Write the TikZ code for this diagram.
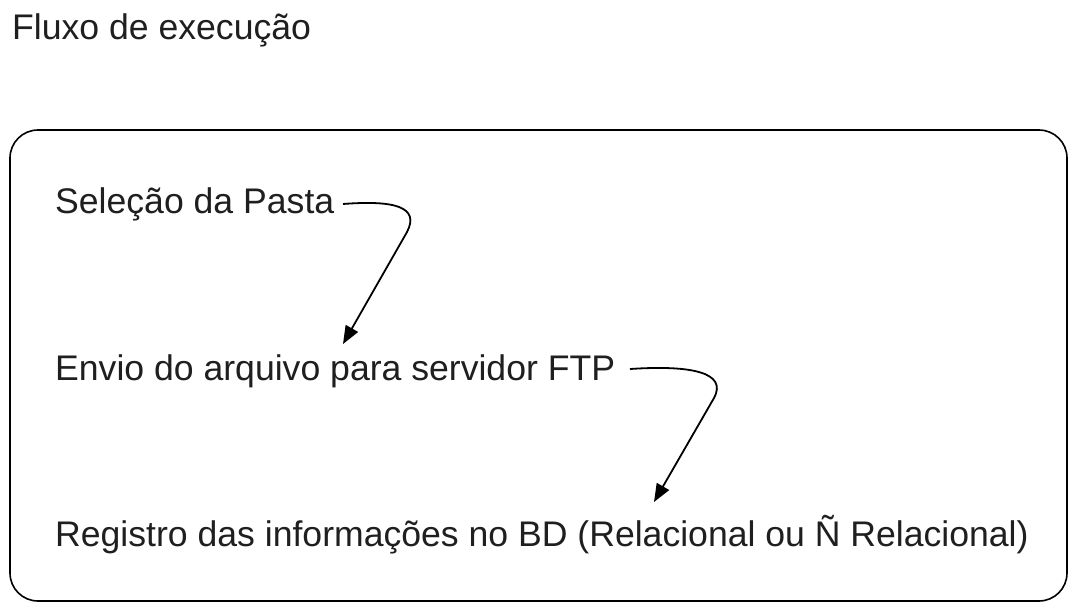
\documentclass[tikz,border=0pt]{standalone}
\usepackage{fontspec}
\setmainfont{Liberation Sans}
\usetikzlibrary{arrows.meta}
\definecolor{txt}{HTML}{1F1F1F}
\begin{document}
\begin{tikzpicture}[x=1pt,y=-1pt,
  lbl/.style={anchor=base west,inner sep=0pt,text=txt,font=\fontsize{35.6}{40}\selectfont},
  ttl/.style={anchor=base west,inner sep=0pt,text=txt,font=\fontsize{35.6}{40}\selectfont},
  frame/.style={draw=black,line width=1.6pt,rounded corners=28pt},
  flow/.style={draw=black,line width=1.8pt,-{Triangle[length=18pt,width=14pt]}}]
\useasboundingbox (0,0) rectangle (1077,614);
\node[ttl] (title) at (12,39) {Fluxo de execução};
\draw[frame] (10,130) rectangle (1067,601);
\node[lbl] (sel) at (55,213) {Seleção da Pasta};
\node[lbl] (env) at (55,380) {Envio do arquivo para servidor FTP};
\node[lbl] (reg) at (55,546) {Registro das informações no BD (Relacional ou Ñ Relacional)};
\coordinate (a1s) at (343,204);
\coordinate (a1e) at (343,344);
\coordinate (a2s) at (630,369);
\coordinate (a2e) at (654,502);
\draw[flow] (a1s) .. controls (395,200) and (420,207) .. (407,232) -- (a1e);
\draw[flow] (a2s) .. controls (690,365) and (728,372) .. (714,398) -- (a2e);
\end{tikzpicture}
\end{document}
